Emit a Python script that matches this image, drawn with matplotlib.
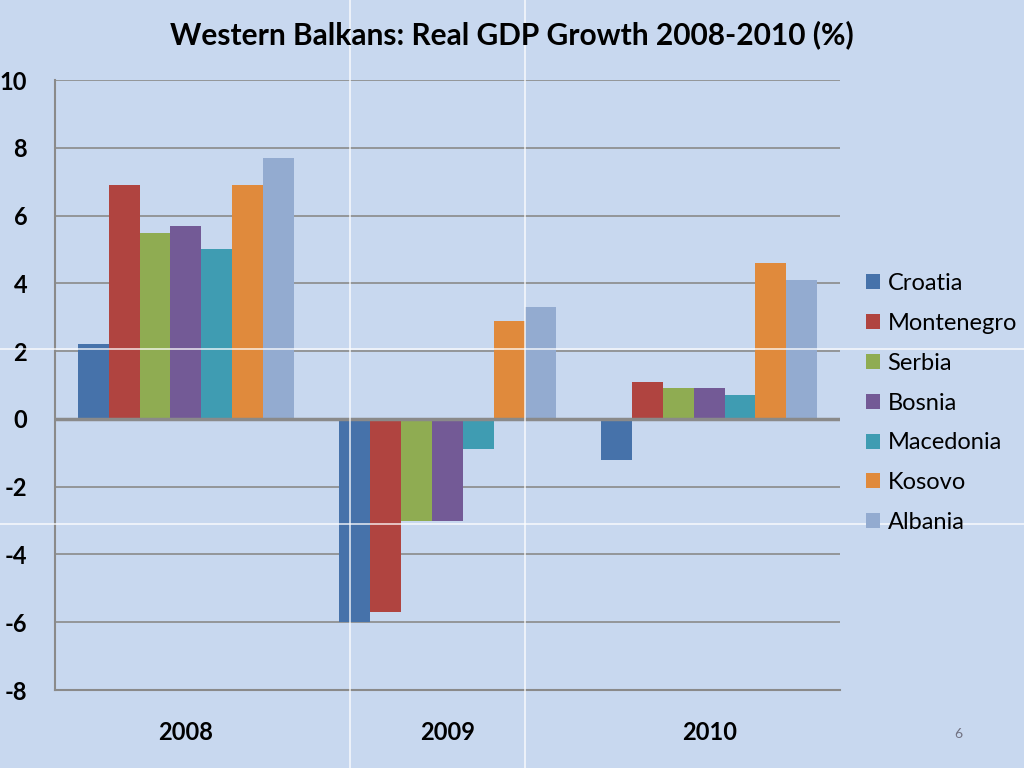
import matplotlib
matplotlib.use('Agg')
import matplotlib.pyplot as plt
from matplotlib.lines import Line2D
import numpy as np

# Data
years = ['2008', '2009', '2010']
countries = ['Croatia', 'Montenegro', 'Serbia', 'Bosnia', 'Macedonia', 'Kosovo', 'Albania']
croatia = [2.2, -6.0, -1.2]
montenegro = [6.9, -5.7, 1.1]
serbia = [5.5, -3.0, 0.9]
bosnia = [5.7, -3.0, 0.9]
macedonia = [5.0, -0.9, 0.7]
kosovo = [6.9, 2.9, 4.6]
albania = [7.7, 3.3, 4.1]
series = [croatia, montenegro, serbia, bosnia, macedonia, kosovo, albania]
colors = ['#4672aa', '#b04440', '#8fac52', '#735a96', '#3f9cb2', '#e08a3c', '#93abd0']

plt.rcParams['font.family'] = ['Lato', 'DejaVu Sans']
plt.rcParams['axes.unicode_minus'] = False

fig = plt.figure(figsize=(10.24, 7.68), dpi=100, facecolor='#c8d8ef')

# faint tile seams of the slide background
for xs in [350 / 1024, 525 / 1024]:
    fig.add_artist(Line2D([xs, xs], [0, 1], color='white', lw=1.2, alpha=0.8, transform=fig.transFigure))
for ys in [1 - 349 / 768, 1 - 524 / 768]:
    fig.add_artist(Line2D([0, 1], [ys, ys], color='white', lw=1.2, alpha=0.8, transform=fig.transFigure))

ax = fig.add_axes([55 / 1024, 78 / 768, 785 / 1024, 610 / 768])
ax.set_facecolor('none')

x = np.arange(len(years))
width = 0.118
for i, (vals, name) in enumerate(zip(series, countries)):
    offset = (i - 3) * width
    ax.bar(x + offset, vals, width, color=colors[i], label=name, zorder=3)

ax.set_ylim(-8, 10)
ax.set_xlim(-0.5, 2.5)
ax.set_yticks(range(-8, 11, 2))
ax.yaxis.grid(True, color='#8a8a8a', lw=1.2, zorder=0)
ax.axhline(0, color='#8a8a8a', lw=2.5, zorder=4)
for s in ['top', 'right']:
    ax.spines[s].set_visible(False)
for s in ['left', 'bottom']:
    ax.spines[s].set_color('#8a8a8a')
    ax.spines[s].set_linewidth(1.5)

ax.set_xticks(x)
ax.set_xticklabels(years)
ax.tick_params(axis='x', length=0, pad=22, labelsize=17)
ax.tick_params(axis='y', length=0, pad=20, labelsize=17)
for lab in ax.get_xticklabels() + ax.get_yticklabels():
    lab.set_fontweight('bold')
    lab.set_color('black')

fig.text(0.5, 1 - 35 / 768, 'Western Balkans: Real GDP Growth 2008-2010 (%)',
         ha='center', va='center', fontsize=21.5, fontweight='bold')

handles, labels = ax.get_legend_handles_labels()
fig.legend(handles, labels, loc='center left', bbox_to_anchor=(845 / 1024, 1 - 403 / 768),
           frameon=False, fontsize=17, handlelength=0.6, handleheight=0.6,
           handletextpad=0.3, labelspacing=0.8)

fig.text(958 / 1024, 1 - 734 / 768, '6', ha='center', va='center', fontsize=10, color='#707080')

fig.savefig('out.png', dpi=100, facecolor=fig.get_facecolor())
